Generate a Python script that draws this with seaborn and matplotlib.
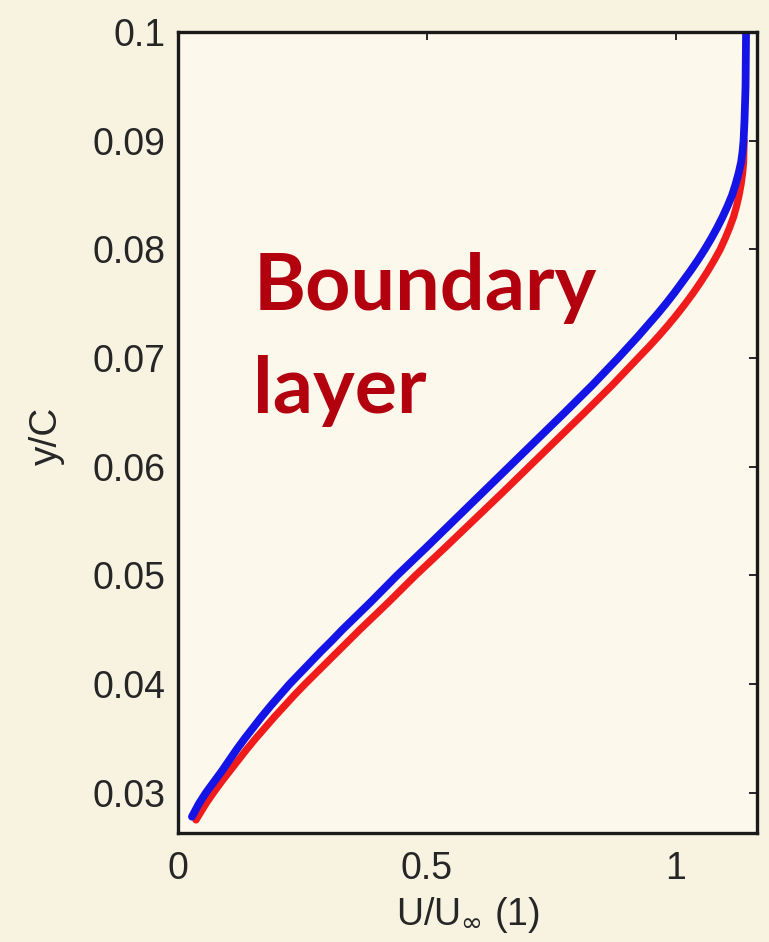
import matplotlib
matplotlib.use("Agg")
import matplotlib.pyplot as plt
import pandas as pd
import seaborn as sns

sns.set_style("white")
plt.rcParams["font.family"] = ["Liberation Sans", "DejaVu Sans"]

# blue profile (U/U_inf vs y/C)
blue_y = [0.0278, 0.029, 0.030, 0.031, 0.032, 0.033, 0.034, 0.035, 0.036, 0.037,
          0.038, 0.039, 0.040, 0.041, 0.042, 0.043, 0.044, 0.045, 0.0475, 0.050,
          0.0525, 0.055, 0.0575, 0.060, 0.0625, 0.065, 0.0675, 0.070, 0.071, 0.072,
          0.073, 0.074, 0.075, 0.076, 0.077, 0.078, 0.079, 0.080, 0.081, 0.082,
          0.083, 0.084, 0.085, 0.086, 0.087, 0.088, 0.089, 0.090, 0.092, 0.095, 0.100]
blue_u = [0.028, 0.042, 0.056, 0.072, 0.088, 0.103, 0.118, 0.134, 0.151, 0.168,
          0.186, 0.205, 0.224, 0.245, 0.266, 0.287, 0.309, 0.330, 0.386, 0.440,
          0.497, 0.553, 0.609, 0.665, 0.721, 0.777, 0.832, 0.884, 0.904, 0.924,
          0.943, 0.962, 0.980, 0.997, 1.013, 1.029, 1.044, 1.058, 1.071, 1.083,
          1.094, 1.104, 1.113, 1.120, 1.126, 1.131, 1.134, 1.136, 1.138, 1.140, 1.141]

# red profile
red_y = [0.0275, 0.029, 0.030, 0.031, 0.032, 0.033, 0.034, 0.035, 0.036, 0.037,
         0.038, 0.039, 0.040, 0.041, 0.042, 0.043, 0.044, 0.045, 0.0475, 0.050,
         0.0525, 0.055, 0.0575, 0.060, 0.0625, 0.065, 0.0675, 0.070, 0.071, 0.072,
         0.073, 0.074, 0.075, 0.076, 0.077, 0.078, 0.079, 0.080, 0.081, 0.082,
         0.083, 0.084, 0.085, 0.086, 0.087, 0.088, 0.090]
red_u = [0.036, 0.056, 0.071, 0.087, 0.104, 0.121, 0.138, 0.156, 0.175, 0.194,
         0.214, 0.234, 0.255, 0.277, 0.299, 0.321, 0.343, 0.365, 0.422, 0.477,
         0.535, 0.592, 0.649, 0.705, 0.761, 0.817, 0.872, 0.924, 0.945, 0.965,
         0.984, 1.002, 1.019, 1.035, 1.050, 1.064, 1.077, 1.089, 1.099, 1.108,
         1.116, 1.122, 1.127, 1.131, 1.134, 1.136, 1.137]

x_ticks = [0, 0.5, 1]
x_labels = ["0", "0.5", "1"]
y_ticks = [0.03, 0.04, 0.05, 0.06, 0.07, 0.08, 0.09, 0.1]
y_labels = ["0.03", "0.04", "0.05", "0.06", "0.07", "0.08", "0.09", "0.1"]

blue = pd.DataFrame({"u": blue_u, "y": blue_y})
red = pd.DataFrame({"u": red_u, "y": red_y})

fig = plt.figure(figsize=(7.69, 9.42), dpi=100, facecolor="#f8f3e1")
ax = fig.add_axes([0.2315, 0.1157, 0.7529, 0.8503])
ax.set_facecolor("#fcf8ec")

line_kw = dict(sort=False, estimator=None, ax=ax, legend=False)
sns.lineplot(red, x="u", y="y", color="#f01c1c", linewidth=5.2, **line_kw)
sns.lineplot(blue, x="u", y="y", color="#1414e6", linewidth=5.6, **line_kw)
for ln in ax.lines:
    ln.set_solid_capstyle("round")
    ln.set_solid_joinstyle("round")

ax.set_xlim(0, 1.163)
ax.set_ylim(0.0263, 0.1)
ax.set_xticks(x_ticks)
ax.set_xticklabels(x_labels)
ax.set_yticks(y_ticks)
ax.set_yticklabels(y_labels)
ax.tick_params(direction="in", length=6, width=1.4, top=True, right=True,
               labelsize=27, colors="#262626")
ax.tick_params(axis="x", pad=13)
ax.tick_params(axis="y", pad=9)
for s in ax.spines.values():
    s.set_linewidth(2.4)
    s.set_color("#1a1a1a")

ax.set_xlabel(r"U/U$_\infty$ (1)", fontsize=27, color="#262626")
ax.set_ylabel("y/C", fontsize=28, color="#262626")
ax.xaxis.set_label_coords(0.5, -0.077)
ax.yaxis.set_label_coords(-0.195, 0.496)

ax.text(0.13, 0.653, "Boundary", transform=ax.transAxes, fontsize=57,
        fontweight="bold", family="Lato", color="#b3000f", va="baseline")
ax.text(0.13, 0.524, "layer", transform=ax.transAxes, fontsize=57,
        fontweight="bold", family="Lato", color="#b3000f", va="baseline")

fig.savefig("out.png", dpi=100, facecolor=fig.get_facecolor())
